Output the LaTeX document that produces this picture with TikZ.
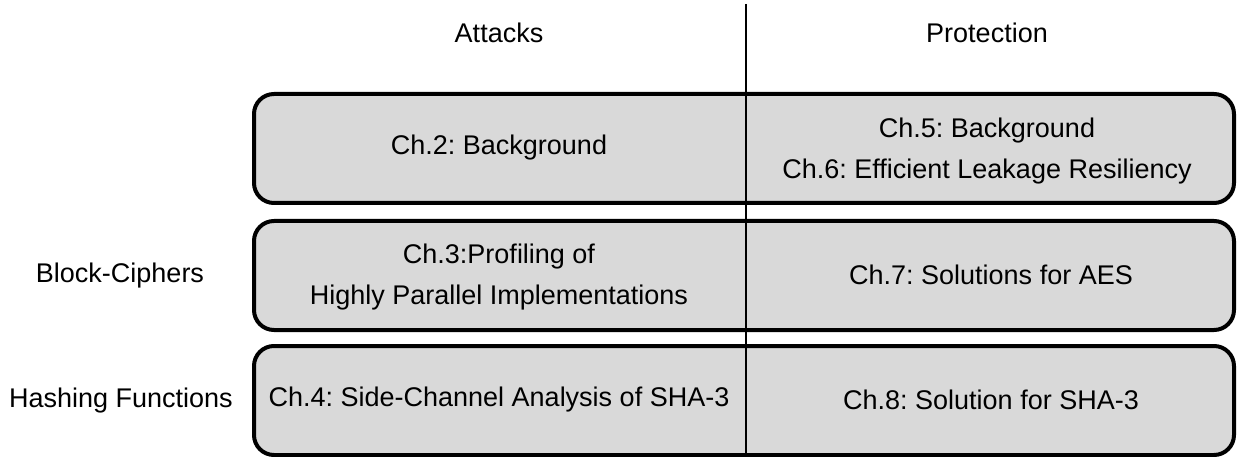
\documentclass[tikz,border=0pt]{standalone}
\usepackage{fontspec}
\setmainfont{Liberation Sans}
\definecolor{boxgray}{HTML}{D9D9D9}
\frenchspacing
\begin{document}
\begin{tikzpicture}[x=1pt,y=-1pt,
  chapbox/.style={draw=black, line width=4pt, fill=boxgray, rounded corners=20pt,
    minimum width=980pt, minimum height=109pt, inner sep=0pt},
  lbl/.style={font=\fontsize{27}{40.5}\selectfont, align=center, inner sep=0pt}]
\useasboundingbox (0,0) rectangle (1240,457);
\node[chapbox] (b1) at (744,148.5) {};
\node[chapbox] (b2) at (744,275.5) {};
\node[chapbox] (b3) at (744,400.5) {};
\coordinate (vtop) at (746,4);
\coordinate (vbot) at (746,454);
\draw[line width=2pt] (vtop) -- (vbot);
\node[lbl] (att) at (499,33) {Attacks};
\node[lbl] (prot) at (987,33) {Protection};
\node[lbl] (c2) at (499,148) {Ch.2: Background};
\node[lbl] (c56) at (987,151) {Ch.5: Background\\Ch.6: Efficient Leakage Resiliency};
\node[lbl] (c3) at (499,277) {Ch.3:Profiling of\\Highly Parallel Implementations};
\node[lbl] (c7) at (991,275) {Ch.7: Solutions for AES};
\node[lbl] (c4) at (499,400) {Ch.4: Side-Channel Analysis of SHA-3};
\node[lbl] (c8) at (991,400) {Ch.8: Solution for SHA-3};
\node[lbl] (bc) at (120,276) {Block-Ciphers};
\node[lbl] (hf) at (121,401) {Hashing Functions};
\end{tikzpicture}
\end{document}
